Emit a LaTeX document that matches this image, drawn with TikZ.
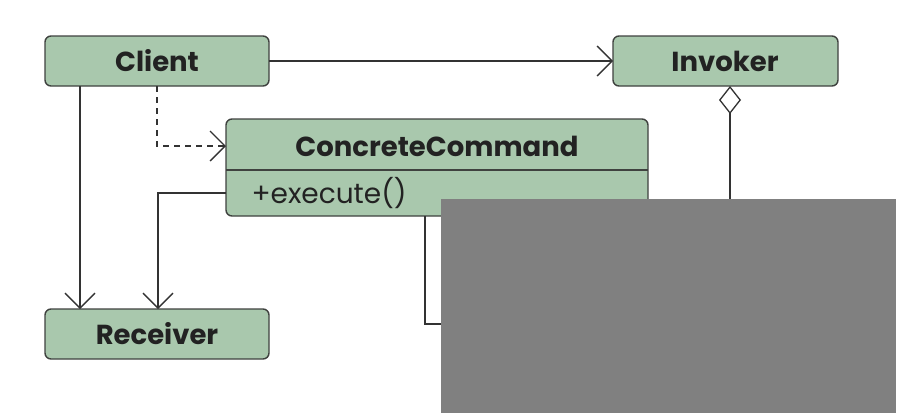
\documentclass[tikz,border=0pt]{standalone}
\usepackage{fontspec}
\setmainfont{Poppins}
\usetikzlibrary{arrows.meta,shapes.geometric}
\definecolor{boxfill}{HTML}{A9C8AD}
\definecolor{boxline}{HTML}{3F423F}
\definecolor{inkdark}{HTML}{222222}
\definecolor{wire}{HTML}{333333}
\tikzset{
  cls/.style={draw=boxline, fill=boxfill, line width=1.4pt, rounded corners=6pt},
  title/.style={text=inkdark, font=\fontsize{27.5}{30}\selectfont\bfseries},
  member/.style={text=inkdark, font=\fontsize{28}{30}\selectfont, anchor=west},
  conn/.style={draw=wire, line width=1.3pt},
  openhead/.style={-{Straight Barb[length=15pt, width=30pt, line width=1.3pt]}},
  agg/.style={{Diamond[open, length=28pt, width=22pt, line width=1.3pt, fill=white]}-},
}
\begin{document}
\begin{tikzpicture}[x=1pt, y=-1pt]
\useasboundingbox (0,0) rectangle (898,413);
\fill[white] (0,0) rectangle (898,413);

% class boxes
\draw[cls] (45,36) rectangle (269,86);
\node[title] (client) at (157,61) {Client};
\coordinate (clientR) at (269,61);
\coordinate (clientB1) at (80,86);
\coordinate (clientB2) at (157,86);

\draw[cls] (613,36) rectangle (838,86);
\node[title] (invoker) at (725,61) {Invoker};
\coordinate (invokerL) at (613,61);
\coordinate (invokerB) at (730,86);

\draw[cls] (226,119) rectangle (648,216);
\draw[draw=boxline, line width=1.4pt] (226,170) -- (648,170);
\node[title] (cc) at (437,146) {ConcreteCommand};
\node[member] (exec) at (248,193) {+execute()};
\coordinate (ccL) at (226,146);
\coordinate (ccL2) at (226,193);
\coordinate (ccB) at (425,216);

\draw[cls] (45,309) rectangle (269,359);
\node[title] (receiver) at (157,334) {Receiver};
\coordinate (recT1) at (80,309);
\coordinate (recT2) at (158,309);

% connectors
\draw[conn, openhead] (clientR) -- (invokerL);
\draw[conn, openhead, dashed, dash pattern=on 6pt off 5pt] (clientB2) |- (ccL);
\draw[conn, openhead] (clientB1) -- (recT1);
\draw[conn, openhead] (ccL2) -| (recT2);
\draw[conn] (ccB) |- (441,324);
\coordinate (invokerEnd) at (730,205);
\draw[conn, agg] (invokerB) -- (invokerEnd);

% grey panel
\fill[black!50] (441,199) rectangle (896,413);
\end{tikzpicture}
\end{document}
